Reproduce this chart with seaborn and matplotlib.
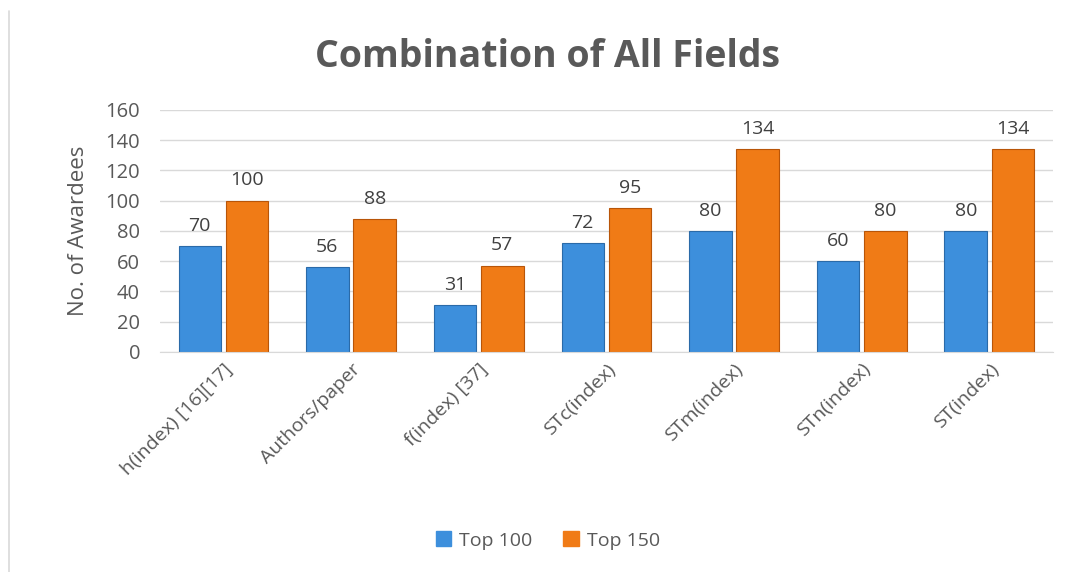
import matplotlib
matplotlib.use("Agg")
import matplotlib.pyplot as plt
from matplotlib.lines import Line2D
import seaborn as sns
import pandas as pd

# ─── DATA ───────────────────────────────────────────────
categories = ["h(index) [16][17]", "Authors/paper", "f(index) [37]",
              "STc(index)", "STm(index)", "STn(index)", "ST(index)"]
top100 = [70, 56, 31, 72, 80, 60, 80]
top150 = [100, 88, 57, 95, 134, 80, 134]
series = ["Top 100", "Top 150"]
yticks = [0, 20, 40, 60, 80, 100, 120, 140, 160]

df = pd.DataFrame({
    "field": categories * 2,
    "value": top100 + top150,
    "series": [series[0]] * len(categories) + [series[1]] * len(categories),
})

# ─── STYLE ──────────────────────────────────────────────
sns.set_style("white")
plt.rcParams["font.family"] = ["Open Sans", "DejaVu Sans"]
GRAY = "#595959"
palette = {"Top 100": "#3d8fdc", "Top 150": "#f07b16"}

fig = plt.figure(figsize=(10.78, 5.72), dpi=100)
ax = fig.add_axes([0.148, 0.385, 0.829, 0.423])

sns.barplot(data=df, x="field", y="value", hue="series", palette=palette,
            width=0.74, gap=0.1, saturation=1, ax=ax,
            edgecolor="#2a6aa8", linewidth=0.8)

# darker edges for the orange bars
for patch in ax.containers[1]:
    patch.set_edgecolor("#b85508")

for cont in ax.containers:
    ax.bar_label(cont, padding=8, fontsize=14, color="#404040")

ax.set_ylim(0, 160)
ax.set_yticks(yticks)
ax.tick_params(axis="y", labelsize=14.5, labelcolor=GRAY, length=0, pad=14)
ax.tick_params(axis="x", labelsize=14, labelcolor=GRAY, length=0, pad=6)
plt.setp(ax.get_xticklabels(), rotation=45, ha="right", rotation_mode="anchor")
ax.yaxis.grid(True, color="#d9d9d9", linewidth=1)
ax.set_axisbelow(True)
for side in ["top", "right", "left"]:
    ax.spines[side].set_visible(False)
ax.spines["bottom"].set_color("#d9d9d9")

ax.set_xlabel("")
ax.set_ylabel("No. of Awardees", fontsize=16, color=GRAY, labelpad=12)

fig.text(0.508, 0.9, "Combination of All Fields", ha="center", va="center",
         fontsize=27, fontweight="bold", color=GRAY)

# thin chart-area border on the left
fig.add_artist(Line2D([0.0085, 0.0085], [0.0, 0.98], color="#d9d9d9",
                      linewidth=1.2, transform=fig.transFigure))

ax.legend_.remove()
handles = [plt.Rectangle((0, 0), 1, 1, color=palette[s]) for s in series]
fig.legend(handles, series, loc="center", bbox_to_anchor=(0.508, 0.055),
           ncol=2, frameon=False, fontsize=14, labelcolor=GRAY,
           handlelength=0.8, handleheight=0.8, handletextpad=0.4,
           columnspacing=1.6)

fig.savefig("out.png", dpi=100)
